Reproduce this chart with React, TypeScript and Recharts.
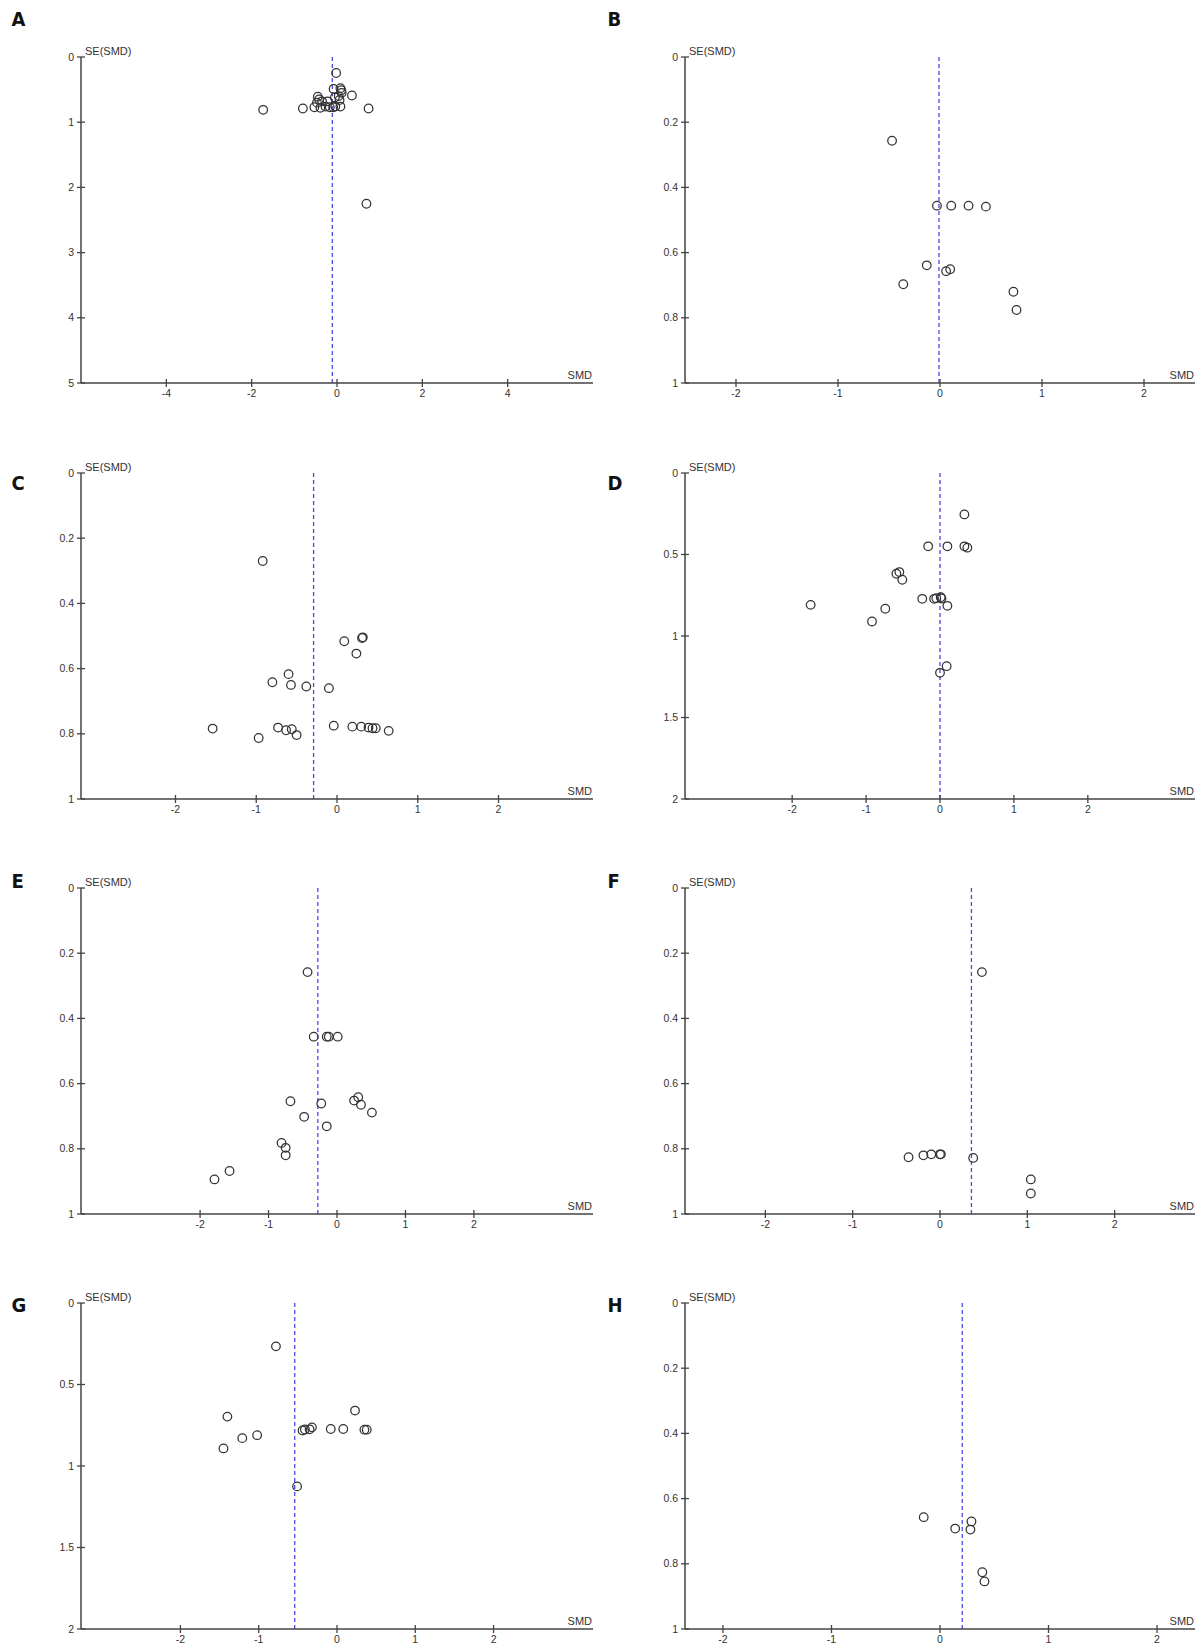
import React from "react";
import { ScatterChart, Scatter, XAxis, YAxis, ReferenceLine } from "recharts";

// Funnel plots (RevMan style): SMD on x, SE(SMD) on reversed y

const aSmd = [-0.02, -1.73, -0.8, 0.74, 0.69, 0.35, 0.08, 0.1, -0.08, 0.11, 0.04, 0.08, -0.45, -0.42, -0.47, -0.35, -0.53, -0.39, -0.27, -0.17, -0.09, -0.04, -0.22, -0.05, 0.06];
const aSe = [0.245, 0.81, 0.79, 0.79, 2.25, 0.59, 0.48, 0.51, 0.49, 0.55, 0.6, 0.76, 0.61, 0.65, 0.7, 0.68, 0.77, 0.78, 0.76, 0.77, 0.77, 0.76, 0.68, 0.62, 0.66];

const bSmd = [-0.47, -0.03, 0.11, 0.28, 0.45, -0.13, 0.06, 0.1, -0.36, 0.72, 0.75];
const bSe = [0.257, 0.456, 0.456, 0.456, 0.459, 0.639, 0.657, 0.651, 0.697, 0.72, 0.776];

const cSmd = [-0.92, 0.09, 0.31, 0.32, 0.24, -0.6, -0.8, -0.57, -0.38, -0.1, -1.54, -0.97, -0.73, -0.63, -0.56, -0.5, -0.04, 0.19, 0.3, 0.39, 0.44, 0.48, 0.64];
const cSe = [0.27, 0.516, 0.506, 0.504, 0.554, 0.617, 0.642, 0.65, 0.655, 0.66, 0.784, 0.813, 0.781, 0.789, 0.786, 0.804, 0.775, 0.778, 0.778, 0.781, 0.783, 0.783, 0.791];

const dSmd = [0.33, -0.16, 0.1, 0.33, 0.37, -0.59, -0.55, -0.51, -0.24, -0.08, -0.05, 0.01, 0.02, 0.1, -0.74, -0.92, -1.75, 0.09, 0.0];
const dSe = [0.254, 0.45, 0.45, 0.45, 0.458, 0.618, 0.608, 0.655, 0.772, 0.772, 0.768, 0.762, 0.77, 0.815, 0.833, 0.911, 0.809, 1.185, 1.226];

const eSmd = [-0.43, -0.34, -0.15, -0.12, 0.01, -0.68, -0.23, 0.25, 0.31, 0.35, 0.51, -0.48, -0.15, -0.81, -0.75, -0.75, -1.57, -1.79];
const eSe = [0.258, 0.456, 0.456, 0.456, 0.456, 0.654, 0.661, 0.652, 0.642, 0.665, 0.689, 0.702, 0.731, 0.782, 0.797, 0.82, 0.868, 0.894];

const fSmd = [0.48, -0.36, -0.19, -0.1, 0.0, 0.01, 0.38, 1.04, 1.04];
const fSe = [0.258, 0.826, 0.82, 0.817, 0.817, 0.817, 0.828, 0.894, 0.937];

const gSmd = [-0.78, -1.4, -1.21, -1.02, -1.45, -0.51, -0.44, -0.41, -0.35, -0.32, -0.08, 0.08, 0.23, 0.35, 0.38];
const gSe = [0.266, 0.697, 0.829, 0.811, 0.892, 1.125, 0.782, 0.776, 0.775, 0.763, 0.773, 0.773, 0.66, 0.777, 0.777];

const hSmd = [-0.15, 0.14, 0.29, 0.28, 0.39, 0.41];
const hSe = [0.657, 0.692, 0.67, 0.695, 0.826, 0.854];

const letters = ["A", "B", "C", "D", "E", "F", "G", "H"];
const pooled = [-0.11, -0.01, -0.29, 0.0, -0.28, 0.36, -0.54, 0.205];
const xHalfRange = [6, 2.5, 3.17, 3.45, 3.74, 2.92, 3.27, 2.35];

const xTicksWide = [-4, -2, 0, 2, 4];
const xTicksUnit = [-2, -1, 0, 1, 2];
const seTicksTenths = [0, 0.2, 0.4, 0.6, 0.8, 1];
const seTicksHalves = [0, 0.5, 1, 1.5, 2];
const seTicksWhole = [0, 1, 2, 3, 4, 5];

const smdSets = [aSmd, bSmd, cSmd, dSmd, eSmd, fSmd, gSmd, hSmd];
const seSets = [aSe, bSe, cSe, dSe, eSe, fSe, gSe, hSe];
const seTickSets = [seTicksWhole, seTicksTenths, seTicksTenths, seTicksHalves, seTicksTenths, seTicksTenths, seTicksHalves, seTicksTenths];

const AXIS = "#444";
const INK = "#333";
const BLUE = "#4848e8";
const FONT = "'Liberation Sans', Arial, sans-serif";
const LETTER_FONT = "'Liberation Sans Narrow', 'DejaVu Sans Condensed', 'Liberation Sans', sans-serif";

const rowTop = [57.3, 472.5, 887.5, 1303.3];
const letterBaseline = [26, 490, 888, 1312];
const colLeft = [0, 604];
const colRightMargin = [7, 9];
const PLOT_H = 326;

function XTick(props: any) {
  const { x, y, payload } = props;
  return (
    <g>
      <line x1={x} x2={x} y1={y - 4} y2={y + 4} stroke={AXIS} strokeWidth={1.3} />
      <text x={x} y={y + 14} textAnchor="middle" fontSize={10.5} fontFamily={FONT} fill={INK}>
        {String(payload.value)}
      </text>
    </g>
  );
}

function YTick(props: any) {
  const { x, y, payload } = props;
  return (
    <g>
      <line x1={x - 4} x2={x + 4} y1={y} y2={y} stroke={AXIS} strokeWidth={1.3} />
      <text x={x - 7} y={y} dy="0.35em" textAnchor="end" fontSize={10.5} fontFamily={FONT} fill={INK}>
        {String(payload.value)}
      </text>
    </g>
  );
}

function Ring(props: any) {
  const { cx, cy } = props;
  if (cx == null || cy == null) return null;
  return <circle cx={cx} cy={cy} r={4.3} fill="none" stroke={INK} strokeWidth={1.25} />;
}

function Funnel({ i, left, top, right }: { i: number; left: number; top: number; right: number }) {
  const smd = smdSets[i];
  const se = seSets[i];
  const data = smd.map((v, k) => ({ smd: v, se: se[k] }));
  const half = xHalfRange[i];
  const yTicks = seTickSets[i];
  return (
    <div style={{ position: "absolute", left, top }}>
      <ScatterChart width={600} height={396} margin={{ top: 40, right, left: 21, bottom: 0 }}>
        <XAxis
          type="number"
          dataKey="smd"
          domain={[-half, half]}
          ticks={i === 0 ? xTicksWide : xTicksUnit}
          interval={0}
          allowDataOverflow
          height={30}
          tickSize={0}
          tickMargin={0}
          tickLine={false}
          axisLine={{ stroke: AXIS, strokeWidth: 1.5 }}
          tick={(p: any) => <XTick {...p} />}
        />
        <YAxis
          type="number"
          dataKey="se"
          reversed
          domain={[0, yTicks[yTicks.length - 1]]}
          ticks={yTicks}
          interval={0}
          allowDataOverflow
          width={60}
          tickSize={0}
          tickMargin={0}
          tickLine={false}
          axisLine={{ stroke: AXIS, strokeWidth: 1.5 }}
          tick={(p: any) => <YTick {...p} />}
        />
        <ReferenceLine x={pooled[i]} stroke={BLUE} strokeWidth={1.3} strokeDasharray="4 3" />
        <Scatter data={data} shape={(p: any) => <Ring {...p} />} isAnimationActive={false} />
      </ScatterChart>
    </div>
  );
}

export default function App() {
  return (
    <div style={{ position: "absolute", left: 0, top: 0, width: 1200, height: 1645, background: "#fff" }}>
      {letters.map((_, i) => {
        const col = i % 2;
        const row = Math.floor(i / 2);
        return <Funnel key={i} i={i} left={colLeft[col]} top={rowTop[row] - 40} right={colRightMargin[col]} />;
      })}
      <svg width={1200} height={1645} style={{ position: "absolute", left: 0, top: 0, pointerEvents: "none" }}>
        {letters.map((ch, i) => {
          const col = i % 2;
          const row = Math.floor(i / 2);
          const plotLeft = colLeft[col] + 81;
          const plotRight = colLeft[col] + 600 - colRightMargin[col];
          const plotTop = rowTop[row];
          return (
            <g key={ch}>
              <text x={col === 0 ? 11.5 : 607.5} y={letterBaseline[row]} fontSize={20} fontWeight="bold" fontFamily={LETTER_FONT} fill="#111">
                {ch}
              </text>
              <text x={plotLeft + 4} y={plotTop - 2} fontSize={11} fontFamily={FONT} fill={INK}>
                SE(SMD)
              </text>
              <text x={plotRight - 1} y={plotTop + PLOT_H - 4} textAnchor="end" fontSize={11} fontFamily={FONT} fill={INK}>
                SMD
              </text>
            </g>
          );
        })}
      </svg>
    </div>
  );
}
